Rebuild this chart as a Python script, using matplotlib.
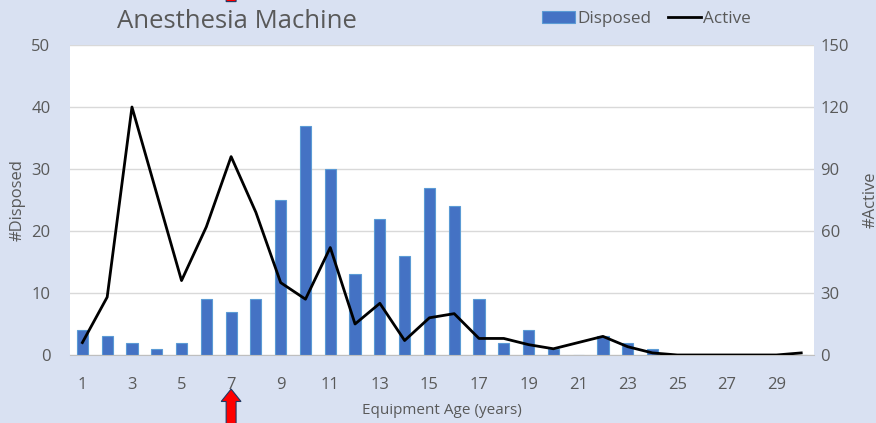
import matplotlib
matplotlib.use("Agg")
from matplotlib import pyplot as plt
from matplotlib.patches import FancyArrow

plt.rcParams['font.family'] = ['Open Sans', 'DejaVu Sans']

ages = list(range(1, 31))
disposed = [4, 3, 2, 1, 2, 9, 7, 9, 25, 37, 30, 13, 22, 16, 27, 24, 9, 2, 4, 1,
            0, 3, 2, 1, 0, 0, 0, 0, 0, 0]
active = [6, 28, 120, 78, 36, 62, 96, 69, 35, 27, 52, 15, 25, 7, 18, 20, 8, 8, 5, 3,
          6, 9, 4, 1, 0, 0, 0, 0, 0, 1]
xticks = list(range(1, 30, 2))
arrow_age = 7

bg = '#D9E1F2'
txt = '#595959'

fig = plt.figure(figsize=(8.76, 4.23), dpi=100)
fig.patch.set_facecolor(bg)
ax1 = fig.add_axes([0.0799, 0.1608, 0.8489, 0.7328])
ax1.set_facecolor('white')

bars = ax1.bar(ages, disposed, width=0.45, color='#4472C4', edgecolor='#5B9BD5',
               linewidth=0.8, label='Disposed', zorder=2)
ax1.set_xlim(0.5, 30.5)
ax1.set_ylim(0, 50)
ax1.set_yticks(range(0, 51, 10))
ax1.set_xticks(xticks)
ax1.grid(axis='y', color='#D9D9D9', linewidth=1, zorder=0)
ax1.set_axisbelow(True)
for s in ['top', 'right', 'left']:
    ax1.spines[s].set_visible(False)
ax1.spines['bottom'].set_color('#BFBFBF')
ax1.tick_params(axis='both', length=0, labelsize=12, colors=txt)
ax1.tick_params(axis='x', pad=16)
ax1.tick_params(axis='y', pad=14)
ax1.set_ylabel('#Disposed', fontsize=12, color=txt, labelpad=4)
ax1.set_xlabel('Equipment Age (years)', fontsize=11, color=txt, labelpad=7)

ax2 = ax1.twinx()
line, = ax2.plot(ages, active, color='black', linewidth=2, label='Active', zorder=3)
ax2.set_ylim(0, 150)
ax2.set_yticks(range(0, 151, 30))
for s in ax2.spines.values():
    s.set_visible(False)
ax2.tick_params(axis='y', length=0, labelsize=12, colors=txt, pad=5)
ax2.set_ylabel('#Active', fontsize=12, color=txt, labelpad=10)

fig.text(0.271, 0.948, 'Anesthesia Machine', fontsize=18.5, color=txt, ha='center', va='center')
fig.legend(handles=[bars, line], labels=['Disposed', 'Active'], loc='center',
           bbox_to_anchor=(0.738, 0.955), ncol=2, frameon=False, fontsize=12.3,
           handlelength=1.9, handletextpad=0.15, columnspacing=1.0, labelcolor=txt)

# red arrows marking age 7
tr = ax1.get_xaxis_transform()
ax1.add_patch(FancyArrow(arrow_age, -0.23, 0, 0.12, width=0.4, head_width=0.8,
                         head_length=0.04, length_includes_head=True, transform=tr,
                         facecolor='red', edgecolor='#1F3864', linewidth=0.8,
                         clip_on=False))
ax1.add_patch(FancyArrow(arrow_age, 1.14, 0, 0.04, width=0.4, head_width=0.8,
                         head_length=0.02, length_includes_head=True, transform=tr,
                         facecolor='red', edgecolor='#1F3864', linewidth=0.8,
                         clip_on=False))

fig.savefig('out.png', dpi=100, facecolor=bg)
